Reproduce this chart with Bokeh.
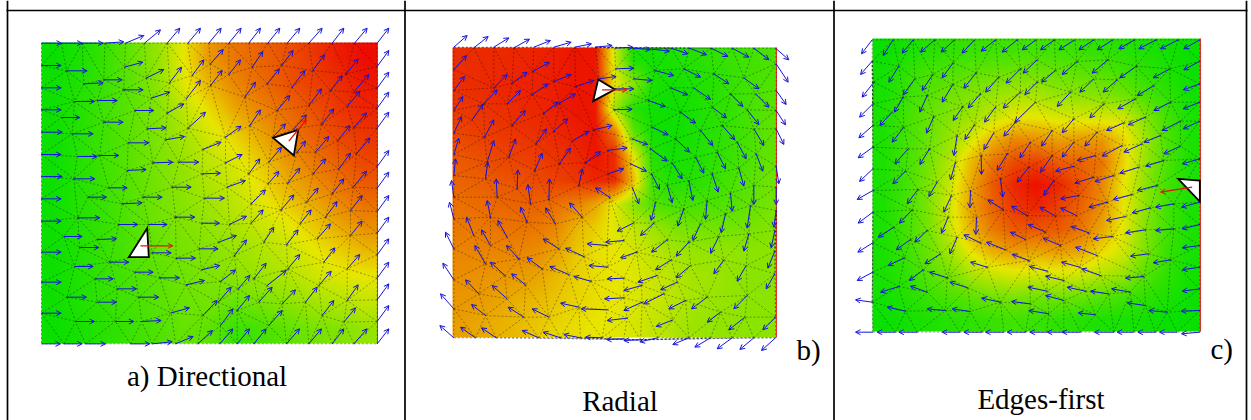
import numpy as np
from bokeh.plotting import figure
from bokeh.models import ColumnDataSource, Arrow, OpenHead, LinearColorMapper, Range1d
from bokeh.core.properties import value
from bokeh.embed import file_html
from bokeh.resources import INLINE

W, H = 1251, 420

# ---- heat values (0 green, 50 yellow, 100 red), rows top to bottom
heat_a = [
 [2,6,12,22,32,50,68,76,80,84,90,96,100],
 [3,7,13,20,30,48,62,72,78,84,88,92,97],
 [3,8,14,20,28,40,52,64,72,78,84,90,94],
 [3,8,14,20,27,35,45,54,64,74,80,86,90],
 [3,8,14,20,26,32,40,46,56,67,74,80,86],
 [3,8,13,19,25,30,36,42,50,60,67,74,80],
 [3,8,12,18,24,28,32,38,44,50,58,66,72],
 [3,7,12,17,22,26,29,33,38,43,50,56,62],
 [3,7,12,16,20,24,27,30,34,38,44,48,50],
 [3,7,11,15,19,23,25,22,26,30,35,38,42],
 [2,5,9,13,17,22,20,12,15,20,25,28,32],
]
heat_b = [
 [92,93,93,94,95,96,98,98,45,6,4,6,8,10,12,14,16],
 [92,93,94,95,95,96,98,98,50,30,6,4,6,8,11,14,17],
 [90,91,92,93,94,96,98,97,35,8,3,3,5,8,11,15,19],
 [87,89,90,91,92,94,96,98,75,20,4,3,5,8,11,15,20],
 [83,85,87,88,89,91,93,98,93,50,8,4,6,9,12,16,21],
 [80,81,83,84,86,88,90,94,93,60,13,7,8,11,15,19,23],
 [77,78,79,80,80,77,73,65,48,30,18,15,15,16,18,21,25],
 [75,75,76,76,75,71,61,55,48,42,34,28,25,25,25,26,28],
 [72,72,72,72,70,65,57,52,50,46,41,36,33,32,32,30,30],
 [70,69,68,67,65,60,55,52,50,48,44,40,36,34,32,30,30],
 [68,67,65,62,60,57,54,52,50,47,44,40,36,33,32,30,30],
 [66,64,62,60,57,54,52,50,49,46,42,38,34,32,31,30,30],
]
heat_c = [
 [2,5,8,10,12,13,14,14,13,12,10,8,6,4,2],
 [4,10,15,17,20,22,24,24,22,20,18,14,10,6,3],
 [5,12,18,24,28,32,36,36,32,30,28,24,16,10,4],
 [6,14,22,28,34,42,50,50,46,46,46,44,28,14,6],
 [6,14,22,32,46,62,72,70,66,68,68,54,34,16,6],
 [6,14,24,38,60,76,86,88,82,80,76,54,32,16,6],
 [6,14,26,42,64,82,94,99,94,84,72,50,30,14,6],
 [6,14,26,44,66,80,90,94,88,80,70,50,30,14,6],
 [6,14,24,42,62,74,82,82,82,76,64,48,28,14,6],
 [5,12,22,34,50,62,66,64,66,64,52,44,26,12,5],
 [5,10,18,24,36,42,46,44,46,44,38,32,18,10,4],
 [4,7,12,16,20,24,26,24,24,22,18,14,10,6,3],
 [2,4,6,8,10,12,14,12,10,8,6,5,4,2,2],
]

# ---- flow arrows at 3x: tail x, tail y, head x, head y
arrows_a = [
 (123,128,183,128),(183,128,245,128),(245,128,308,128),(313,128,370,124),(375,128,430,105),(432,128,480,88),(500,128,538,83),(562,128,600,83),(625,128,662,83),(685,128,722,83),(745,128,780,83),(802,128,838,83),(860,128,898,83),(925,128,965,83),(995,128,1030,83),(1062,128,1100,83),(1130,128,1165,83),
 (123,195,182,195),(123,262,182,262),(123,328,182,328),(123,395,185,395),(123,462,182,462),(123,528,185,528),(123,595,182,595),(123,662,182,662),(123,755,182,755),(123,845,182,845),(123,938,182,938),(123,1030,180,1030),
 (190,1030,245,1030),(255,1030,315,1030),(390,1030,448,1030),(455,1030,515,1024),(525,1030,578,1008),(592,1030,636,990),(658,1030,697,985),(710,1030,747,985),(760,1030,797,985),(858,1030,897,985),(925,1030,963,985),(995,1030,1030,985),(1060,1030,1100,985),(1130,1030,1165,985),
 (1130,198,1165,150),(1130,263,1165,215),(1130,323,1165,275),(1130,383,1165,335),(1130,498,1165,450),(1130,563,1165,515),(1130,633,1165,585),(1130,698,1165,650),(1130,763,1165,715),(1130,833,1165,785),(1130,898,1165,850),(1130,963,1165,915),
 (198,211,260,211),(250,250,308,247),(310,238,365,238),(372,200,427,185),(370,268,428,268),(222,303,282,303),(290,300,350,300),(183,351,238,351),(310,365,368,365),(403,330,460,330),(437,233,490,207),(507,247,543,200),(452,293,508,275),(500,338,550,310),
 (575,225,610,178),(557,295,600,240),(630,190,668,147),(630,255,665,210),(685,222,720,178),(755,200,787,153),(733,290,765,245),(800,250,837,205),(843,195,878,150),(875,260,913,210),(830,330,868,285),(937,210,972,163),(925,315,963,265),(1037,220,1073,175),(990,270,1025,225),(1060,275,1105,222),(1040,318,1078,272),(963,372,1000,325),(1060,382,1098,337),(1012,420,1048,375),(1068,460,1108,412),
 (748,375,780,328),(817,410,855,370),(880,385,918,343),(890,455,915,422),(945,455,985,408),(1015,505,1050,458),(938,520,975,475),(995,580,1030,535),(1058,560,1098,512),(1050,630,1085,585),(862,548,898,503),(803,550,835,513),(745,520,778,475),(805,485,843,440),
 (675,410,722,377),(607,447,662,425),(563,383,615,335),(495,418,552,408),(440,385,497,382),(383,427,445,427),(215,400,278,400),(230,468,290,468),(297,465,355,465),(457,487,517,485),(535,485,595,485),(380,510,437,507),(220,535,283,535),(605,520,660,518),(675,487,725,462),(680,560,735,540),(325,562,380,562),(515,560,572,560),(262,590,318,590),(365,610,425,607),(427,590,485,590),(612,593,672,593),(752,610,795,568),(842,628,880,583),(918,605,953,563),(975,650,1010,603),
 (525,650,583,650),(232,652,298,652),(355,672,412,672),(445,672,500,672),(603,668,657,668),(687,672,738,647),(752,668,788,628),(655,725,708,705),(702,765,738,718),(790,725,820,680),(858,733,893,688),(897,672,932,628),(950,715,990,670),(1050,705,1085,662),(190,708,245,708),(290,717,348,715),(237,741,295,741),(596,745,653,745),(455,757,512,757),(527,773,585,773),(603,808,658,795),(222,798,278,798),(328,785,385,785),(760,835,797,788),(800,855,857,810),(862,805,898,762),(970,785,1003,742),(1040,805,1078,762),(403,815,458,815),(478,832,537,832),(283,835,338,835),(660,843,705,808),(557,853,612,840),(350,865,408,865),(713,865,748,825),(955,855,992,812),(1040,900,1073,853),(607,945,650,900),(653,905,692,860),(710,930,747,885),(775,905,815,860),(845,910,885,868),(915,905,950,860),(200,890,258,890),(415,890,475,890),(290,905,348,905),(965,945,1000,900),(660,975,697,925),(805,975,845,930),(1030,965,1065,922),(512,937,567,922),(225,963,282,963),(345,963,400,963),(423,963,482,960),
]
arrows_b = [
 (145,140,185,105),(205,142,248,108),(265,140,310,112),(325,142,372,116),(385,140,435,120),(445,140,497,125),(508,140,558,130),(570,140,620,135),(628,143,682,140),(685,143,735,147),(740,146,792,152),(797,143,847,160),(852,143,903,163),(917,143,967,168),(980,143,1030,170),(1045,143,1090,178),(1110,143,1150,178),
 (145,208,183,165),(145,270,177,228),(145,330,172,288),(145,398,168,348),(145,462,160,413),(145,525,150,475),(145,590,138,540),(145,655,132,605),(145,745,120,695),(145,838,112,788),(145,925,105,880),(145,1012,103,975),
 (1112,190,1148,245),(1112,270,1142,312),(1112,330,1140,373),(1112,385,1135,432),(1112,497,1120,550),(1112,560,1112,612),(1112,630,1105,680),(1108,690,1097,742),(1108,752,1087,803),(1108,820,1082,865),(1110,950,1072,988),(1110,1012,1068,1050),
 (210,1012,165,980),(272,1012,228,982),(400,1012,350,990),(465,1012,413,995),(525,1012,475,1002),(590,1012,540,1010),(655,1015,603,1017),(705,1018,655,1020),(757,1012,703,1024),(850,1012,802,1032),(915,1012,868,1040),(980,1012,935,1045),(1045,1012,1003,1047),
 (382,213,432,185),(320,248,365,215),(445,243,497,222),(510,258,565,240),(265,262,305,222),(235,310,275,268),(200,358,232,312),(380,282,428,250),(305,310,345,270),(415,338,458,305),(462,308,510,280),(320,375,360,330),(237,410,265,358),(565,388,620,375),(445,392,487,355),(500,422,550,392),(392,430,423,385),(462,490,495,443),(540,487,585,453),(388,510,410,458),(607,450,665,442),(245,485,265,420),(240,535,247,485),(310,470,330,415),(520,555,530,505),(607,520,655,505),(335,565,337,508),(430,597,432,535),(375,610,367,552),(275,590,272,535),
 (612,590,570,562),(530,650,492,607),(450,670,420,622),(365,665,345,620),(255,650,245,600),(205,705,183,650),(305,710,277,660),(255,735,228,688),(340,775,303,735),(460,745,413,715),(240,790,208,735),(298,825,255,785),(410,805,365,772),(220,880,180,838),(360,853,318,820),(535,768,480,743),(490,822,433,798),(555,842,505,828),(305,895,260,855),(605,735,545,730),(655,720,600,725),(605,800,550,795),(655,833,605,835),(240,945,198,912),(355,950,308,920),(430,950,380,925),(520,920,465,908),(605,928,527,925),(655,892,597,895),(708,855,655,870),(710,905,655,930),(665,953,605,960),(775,880,715,910),
 (745,668,705,705),(685,667,635,692),(693,755,645,772),(785,718,738,755),(850,725,812,767),(797,778,750,808),(855,795,812,832),(755,825,697,845),(815,845,765,868),(905,890,858,925),(840,900,790,925),(945,935,905,965),(1018,950,970,988),(803,958,752,978),(1025,885,985,925),
 (580,235,632,228),(630,205,685,203),(685,235,740,240),(628,265,685,265),(625,328,680,326),(728,300,780,318),(748,210,805,225),(795,262,847,283),(835,205,885,230),(925,220,970,250),(1015,232,1060,265),(865,262,915,297),(975,280,1012,318),(1050,280,1090,320),(825,335,870,368),(920,320,963,352),(1025,328,1060,372),(740,380,788,403),(810,415,852,455),(885,390,922,435),(950,375,988,418),(1045,385,1075,435),(680,415,727,432),(735,445,785,482),(870,470,895,518),(935,455,960,505),(995,425,1022,475),(1052,460,1072,512),(675,490,723,512),(800,487,830,535),(738,520,762,567),(920,520,938,575),(850,540,862,600),(1000,503,1015,557),(1045,555,1045,612),(680,560,700,610),(785,553,800,607),(975,578,980,632),(905,600,900,657),(1035,615,1025,683),(750,605,737,660),(835,625,817,677),(960,640,947,697),(885,670,862,720),(1030,700,1015,752),(940,708,915,758),(955,778,925,820),(1022,795,995,842),
]
arrows_c = [
 (125,118,93,160),(125,182,90,222),(130,245,95,290),(127,310,87,350),(127,375,85,412),(127,440,83,472),(127,505,87,543),(127,570,80,597),(127,635,83,668),(127,727,82,755),(127,815,80,840),(125,905,75,898),(127,995,75,995),
 (188,118,158,165),(248,118,215,158),(313,118,270,155),(372,118,332,155),(432,118,395,158),(495,118,452,152),(560,118,515,155),(617,118,575,148),(672,118,630,148),(733,118,685,148),(790,118,745,148),(847,118,800,148),(912,118,865,145),(977,118,925,145),(1043,118,990,145),(1108,118,1060,145),
 (1108,182,1060,208),(1108,250,1058,268),(1108,305,1058,325),(1108,362,1058,385),(1108,475,1055,490),(1108,605,1053,620),(1108,672,1055,685),(1108,735,1055,742),(1108,800,1055,808),(1108,865,1055,872),(1108,930,1052,932),(1108,995,1053,1000),
 (195,995,140,995),(260,995,205,995),(388,995,335,995),(455,995,400,995),(520,995,465,995),(585,995,530,995),(648,995,598,995),(700,995,650,995),(750,995,695,995),(850,995,792,995),(910,995,860,995),(975,995,922,995),(1040,995,987,995),
 (205,197,175,245),(253,235,218,283),(368,187,335,232),(290,285,268,335),(307,222,275,270),(437,217,400,263),(367,252,335,305),(218,290,192,335),(185,335,148,375),(505,230,465,275),(570,205,527,248),(620,178,578,218),(675,210,633,245),(740,183,695,222),(832,178,785,218),(918,197,868,232),(1018,205,968,232),(860,238,818,275),(790,235,748,275),(970,255,920,285),(620,245,583,282),(720,275,680,318),(570,275,518,323),(450,280,413,322),(397,318,368,360),(310,348,288,398),(220,380,185,425),(233,445,193,490),(297,445,268,492),(495,320,462,365),(615,305,553,365),(730,355,695,397),(820,310,778,352),(915,295,862,325),(1020,305,970,330),(945,350,893,373),(880,367,828,390),(555,365,520,407),(432,373,403,417),(380,405,370,465),(490,397,460,447),(665,390,633,437),(800,395,763,437),(730,425,695,470),(600,425,568,472),(530,460,500,510),(452,465,453,522),(375,485,360,538),
 (1050,362,995,390),(990,405,940,425),(935,430,880,455),(875,435,815,467),(795,465,740,480),(665,465,630,515),(730,497,675,512),(1050,437,1000,460),(1000,480,945,497),(925,500,868,518),(850,525,793,543),(790,530,733,548),(595,500,560,545),(670,540,640,585),(510,535,517,590),(980,555,920,570),(420,570,418,622),(225,512,187,550),(320,545,295,588),(262,567,230,610),(363,585,340,635),(905,582,848,597),(830,605,775,620),(745,585,690,595),(1030,610,975,620),(960,622,905,637),(245,628,207,668),(353,650,333,698),(438,650,436,702),(590,645,543,617),(675,647,628,620),(738,645,690,622),(518,627,472,598),(885,648,828,660),(190,680,143,710),(290,690,253,725),(380,710,358,760),(645,695,593,672),(775,697,722,678),(845,708,788,715),(945,688,885,697),(1030,685,975,690),(240,717,197,748),(585,717,540,695),(450,727,400,703),(525,748,468,725),(690,735,638,713),(800,765,735,740),(955,760,900,767),(1020,778,968,787),(595,780,545,762),(330,760,283,790),(222,772,173,795),(470,800,420,785),(748,800,693,785),(810,825,753,805),(278,808,237,840),(350,832,297,815),(650,812,597,798),(700,840,645,827),(940,828,885,833),(412,862,358,845),(205,858,150,875),(290,875,240,857),(650,872,592,860),(765,872,710,860),(835,880,780,872),(900,875,843,865),(510,905,453,893),(600,910,543,903),(700,900,645,885),(945,915,890,907),(225,932,170,920),(345,930,290,925),(420,933,365,925),(655,940,595,930),(795,943,743,937),(1010,935,955,930),
]

# white triangles (3x picture units)
triangles_a = [[(818,412),(893,388),(880,465)], [(440,683),(385,770),(445,770)]]
triangles_b = [[(578,237),(628,267),(563,302)]]
triangles_c = [[(1043,535),(1108,540),(1108,603)]]
# red arrows
red_a = [(865,422,918,357), (420,736,517,736)]
red_b = [(590,268,665,268)]
red_c = [(1085,560,990,575)]

captions = ["a) Directional", "Radial", "Edges-first", "b)", "c)"]

PANELS = [
 dict(heat=heat_a, arrows=arrows_a, tris=triangles_a, red=red_a, off=0,   box=(41,42,377,343)),
 dict(heat=heat_b, arrows=arrows_b, tris=triangles_b, red=red_b, off=405, box=(452,47,776,337)),
 dict(heat=heat_c, arrows=arrows_c, tris=triangles_c, red=red_c, off=830, box=(872,38,1200,331)),
]

def ramp():
    out = []
    for i in range(256):
        t = i / 255
        if t < .5:
            k = t / .5
            c = (0 + 232*k, 224 + 6*k, 0)
        else:
            k = (t - .5) / .5
            c = (232 + 4*k, 230 - 218*k, 0)
        out.append("#%02x%02x%02x" % tuple(int(round(v)) for v in c))
    return out

def smooth_for_display(grid, w, h):
    """Gouraud-like display shading of the read grid, one raster cell per screen pixel."""
    g = np.array(grid, dtype=float)
    rows, cols = g.shape
    xi = (np.arange(w) + .5) / w * cols - .5
    yi = (np.arange(h) + .5) / h * rows - .5
    tmp = np.array([np.interp(xi, np.arange(cols), r) for r in g])
    return np.array([np.interp(yi, np.arange(rows), c) for c in tmp.T]).T

def delaunay_edges(pts):
    pts = list(dict.fromkeys(pts))
    n = len(pts)
    P = pts + [(-20000, -20000), (30000, -20000), (0, 30000)]
    tris = [(n, n+1, n+2)]
    def incircle(t, p):
        ax, ay = P[t[0]]; bx, by = P[t[1]]; cx, cy = P[t[2]]
        d = 2*(ax*(by-cy)+bx*(cy-ay)+cx*(ay-by))
        if d == 0: return False
        ux = ((ax*ax+ay*ay)*(by-cy)+(bx*bx+by*by)*(cy-ay)+(cx*cx+cy*cy)*(ay-by))/d
        uy = ((ax*ax+ay*ay)*(cx-bx)+(bx*bx+by*by)*(ax-cx)+(cx*cx+cy*cy)*(bx-ax))/d
        return (p[0]-ux)**2+(p[1]-uy)**2 < (ax-ux)**2+(ay-uy)**2
    for i in range(n):
        bad = [t for t in tris if incircle(t, P[i])]
        cnt = {}
        for t in bad:
            for e in ((t[0],t[1]),(t[1],t[2]),(t[2],t[0])):
                k = tuple(sorted(e)); cnt[k] = cnt.get(k,0)+1
        tris = [t for t in tris if t not in bad]
        for k,v in cnt.items():
            if v == 1:
                tris.append((k[0],k[1],i))
    edges = set()
    for t in tris:
        if max(t) >= n: continue
        for e in ((t[0],t[1]),(t[1],t[2]),(t[2],t[0])):
            edges.add(tuple(sorted(e)))
    return [(pts[a], pts[b]) for a,b in edges]

p = figure(width=W, height=H, x_range=Range1d(0, W), y_range=Range1d(0, H),
           output_backend="svg", toolbar_location=None, min_border=0,
           margin=(0, 0, 0, 0), outline_line_color=None,
           x_axis_location=None, y_axis_location=None)
p.grid.visible = False
p.background_fill_color = "white"
p.border_fill_color = "white"

mapper = LinearColorMapper(palette=ramp(), low=0, high=100)

for P in PANELS:
    off = P["off"]
    X = lambda z: off + z / 3
    Y = lambda z: H - z / 3
    x0, y0, x1, y1 = P["box"]
    img = smooth_for_display(P["heat"][::-1], x1 - x0, y1 - y0)
    p.image(image=[img], x=x0, y=H - y1, dw=x1 - x0, dh=y1 - y0,
            color_mapper=mapper, level="image")
    p.segment(x1, H - y0, x1, H - y1, line_color="#ee3030", line_width=1, level="underlay")
    # mesh
    tails = [(a[0], a[1]) for a in P["arrows"]]
    ed = delaunay_edges(tails)
    p.multi_line([[X(a[0]), X(b[0])] for a, b in ed], [[Y(a[1]), Y(b[1])] for a, b in ed],
                 line_color="#000000", line_alpha=0.42, line_width=0.85, line_dash="2 2", level="underlay")
    # flow arrows
    A = np.array(P["arrows"], dtype=float)
    src = ColumnDataSource(dict(xs=off + A[:,0]/3, ys=H - A[:,1]/3, xe=off + A[:,2]/3, ye=H - A[:,3]/3))
    p.add_layout(Arrow(end=OpenHead(size=5, line_color="#1414dc", line_width=1), x_start="xs", y_start="ys", x_end="xe", y_end="ye",
                       source=src, line_color="#1414dc", line_width=1, level="underlay"))
    # white triangles
    p.patches([[X(q[0]) for q in t] for t in P["tris"]], [[Y(q[1]) for q in t] for t in P["tris"]],
              fill_color="white", line_color="black", line_width=1.8, line_join="miter")
    # red arrows
    R = np.array(P["red"], dtype=float)
    rs = ColumnDataSource(dict(xs=off + R[:,0]/3, ys=H - R[:,1]/3, xe=off + R[:,2]/3, ye=H - R[:,3]/3))
    p.add_layout(Arrow(end=OpenHead(size=5, line_color="#e81010", line_width=1), x_start="xs", y_start="ys", x_end="xe", y_end="ye",
                       source=rs, line_color="#e81010", line_width=1.3))

# table rules
rule_x = [7, 404.5, 833.5, 1246]
p.segment(rule_x, [H]*4, rule_x, [0]*4, line_color="black", line_width=1.7)
p.segment(6, H - 10, 1247, H - 10, line_color="black", line_width=1.7)

# captions
cap_x = [206.5, 619.5, 1040.5, 796, 1210]
cap_y = [H - 375.5, H - 400, H - 398, H - 349, H - 348]
cap_a = ["center", "center", "center", "left", "left"]
p.text(cap_x, cap_y, text=captions, text_font=value("Liberation Serif"), text_font_size="29px",
       text_color="black", text_align=cap_a, text_baseline="alphabetic")

open("out.html", "w").write(file_html(p, INLINE))
